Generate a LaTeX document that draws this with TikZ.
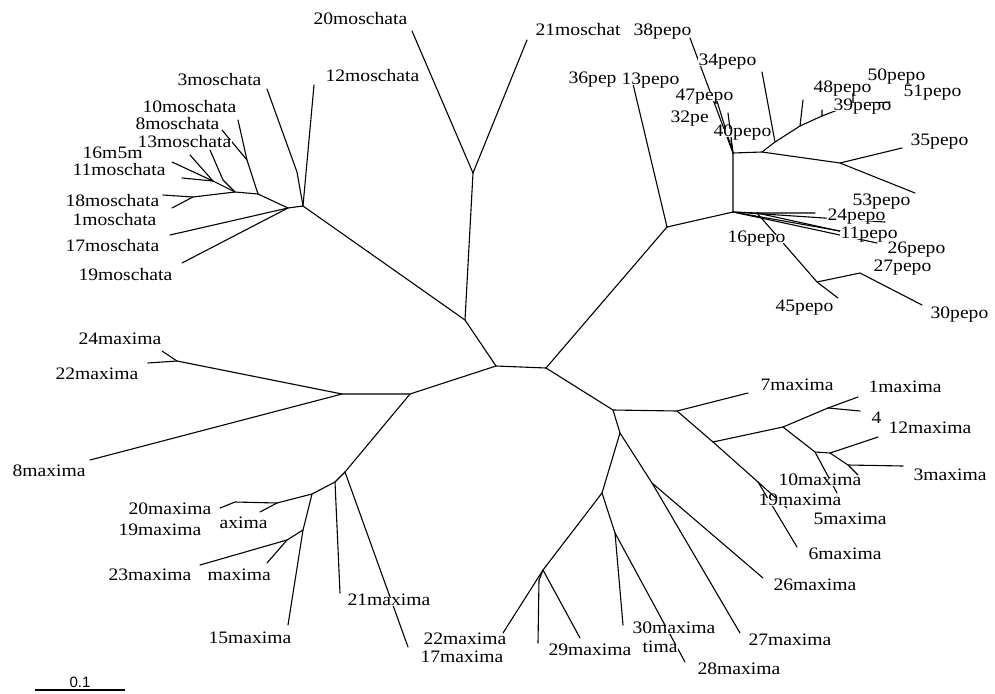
\documentclass[tikz,border=0pt]{standalone}
\usepackage{fontspec}
\setmainfont{Liberation Serif}[FakeStretch=1.12]
\newfontfamily\barfont{Liberation Sans}
\newcommand{\labfont}{\fontsize{17.5}{20}\selectfont}
\tikzset{
  br/.style={line width=1.1pt, line cap=round, line join=round},
  lab/.style={anchor=west, inner sep=0.4pt, fill=white, text height=0.68em, text depth=0pt, font=\labfont},
}
\begin{document}
\begin{tikzpicture}[x=1pt,y=-1pt]
\useasboundingbox[fill=white] (0,0) rectangle (995,693);
% ---------------- centre
\coordinate (A) at (496,366);
\coordinate (B) at (546,368);
% ---------------- moschata
\coordinate (Mo1) at (465,320);
\coordinate (Mf) at (473,173);
\coordinate (t20m) at (412,31);
\coordinate (t21m) at (527,40);
\coordinate (M) at (303,206);
\coordinate (M3) at (297,172);
\coordinate (t3m) at (267,89);
\coordinate (t12m) at (314,85);
\coordinate (M2) at (288,208);
\coordinate (t1m) at (170,235);
\coordinate (t17m) at (182,263);
\coordinate (M4) at (258,194);
\coordinate (M6) at (247,160);
\coordinate (t10m) at (238,120);
\coordinate (t8m) at (222,130);
\coordinate (M7) at (235,192);
\coordinate (Mb) at (193,197);
\coordinate (t18m) at (163,195);
\coordinate (t18b) at (172,208);
\coordinate (M8) at (223,180);
\coordinate (t13m) at (210,150);
\coordinate (M9) at (213,181);
\coordinate (t5m) at (190,155);
\coordinate (t16m) at (172,162);
\coordinate (t11m) at (182,178);
% ---------------- pepo
\coordinate (P1) at (667,227);
\coordinate (t13p) at (633,84);
\coordinate (P2) at (733,212);
\coordinate (P3) at (733,153);
\coordinate (t38p) at (690,38);
\coordinate (t47p) at (716,98);
\coordinate (t32p) at (728,113);
\coordinate (t40p) at (731,140);
\coordinate (P4) at (762,152);
\coordinate (P6) at (775,142);
\coordinate (t34p) at (762,72);
\coordinate (P7) at (800,126);
\coordinate (t48p) at (803,100);
\coordinate (P8) at (822,116);
\coordinate (t8s) at (822,110);
\coordinate (P9) at (853,104);
\coordinate (t50p) at (853,93);
\coordinate (t51p) at (890,102);
\coordinate (P5) at (840,163);
\coordinate (t35p) at (902,148);
\coordinate (t53p) at (915,193);
\coordinate (Q) at (757,213);
\coordinate (t16p) at (815,213);
\coordinate (t24p) at (885,222);
\coordinate (t11p) at (840,231);
\coordinate (t26p) at (877,243);
\coordinate (t21p) at (862,236);
\coordinate (P10) at (817,282);
\coordinate (t45p) at (838,298);
\coordinate (P11) at (860,273);
\coordinate (t30p) at (922,305);
% ---------------- maxima left
\coordinate (C1) at (410,394);
\coordinate (C2) at (342,394);
\coordinate (C24) at (177,361);
\coordinate (t24x) at (162,351);
\coordinate (t22x) at (148,363);
\coordinate (t8x) at (90,460);
\coordinate (C3) at (345,472);
\coordinate (C3b) at (335,482);
\coordinate (t21x) at (340,593);
\coordinate (t17x) at (408,647);
\coordinate (C4) at (312,494);
\coordinate (C20) at (277,503);
\coordinate (C20b) at (235,502);
\coordinate (t20x) at (220,508);
\coordinate (t19x) at (260,512);
\coordinate (C5) at (303,530);
\coordinate (t15x) at (288,625);
\coordinate (C6) at (287,540);
\coordinate (t23x) at (200,565);
\coordinate (t9x) at (267,563);
% ---------------- maxima right
\coordinate (D1) at (613,410);
\coordinate (D2) at (677,411);
\coordinate (t7x) at (748,393);
\coordinate (D3) at (713,442);
\coordinate (D5) at (783,427);
\coordinate (D6) at (828,408);
\coordinate (t1x) at (858,397);
\coordinate (t4x) at (860,411);
\coordinate (D7) at (815,452);
\coordinate (D8) at (830,453);
\coordinate (t12x) at (878,437);
\coordinate (D9) at (848,465);
\coordinate (t3x) at (903,466);
\coordinate (t3b) at (858,475);
\coordinate (t10x) at (837,493);
\coordinate (D4) at (758,482);
\coordinate (t19r) at (787,508);
\coordinate (t6x) at (797,547);
\coordinate (D10) at (620,433);
\coordinate (D11) at (602,493);
\coordinate (D12) at (652,483);
\coordinate (t27x) at (740,633);
\coordinate (t26x) at (763,578);
\coordinate (D13) at (543,570);
\coordinate (D13b) at (539,580);
\coordinate (t22b) at (503,633);
\coordinate (t29a) at (538,643);
\coordinate (t29x) at (580,638);
\coordinate (D14) at (615,533);
\coordinate (t30a) at (623,625);
\coordinate (t28x) at (685,662);
% ---------------- branches
\draw[br] (A) -- (B);
\draw[br] (A) -- (Mo1) -- (Mf) -- (t20m);
\draw[br] (Mf) -- (t21m);
\draw[br] (Mo1) -- (M) -- (M3) -- (t3m);
\draw[br] (M) -- (t12m);
\draw[br] (M) -- (M2) -- (t1m);
\draw[br] (M2) -- (t17m);
\draw[br] (M2) -- (M4) -- (M6) -- (t10m);
\draw[br] (M6) -- (t8m);
\draw[br] (M4) -- (M7) -- (Mb) -- (t18m);
\draw[br] (Mb) -- (t18b);
\draw[br] (M7) -- (M8) -- (t13m);
\draw[br] (M7) -- (M9) -- (t5m);
\draw[br] (M9) -- (t16m);
\draw[br] (M9) -- (t11m);
\draw[br] (B) -- (P1) -- (t13p);
\draw[br] (P1) -- (P2) -- (P3) -- (t38p);
\draw[br] (P3) -- (t47p);
\draw[br] (P3) -- (t32p);
\draw[br] (P3) -- (t40p);
\draw[br] (P3) -- (P4) -- (P6) -- (t34p);
\draw[br] (P6) -- (P7) -- (t48p);
\draw[br] (P7) -- (P8) -- (t8s);
\draw[br] (P8) -- (P9) -- (t50p);
\draw[br] (P9) -- (t51p);
\draw[br] (P4) -- (P5) -- (t35p);
\draw[br] (P5) -- (t53p);
\draw[br] (P2) -- (Q) -- (t16p);
\draw[br] (P2) -- (t24p);
\draw[br] (P2) -- (t11p);
\draw[br] (P2) -- (t26p);
\draw[br] (Q) -- (t21p);
\draw[br] (Q) -- (P10) -- (t45p);
\draw[br] (P10) -- (P11) -- (t30p);
\draw[br] (A) -- (C1) -- (C2) -- (C24) -- (t24x);
\draw[br] (C24) -- (t22x);
\draw[br] (C2) -- (t8x);
\draw[br] (C1) -- (C3) -- (C3b) -- (t21x);
\draw[br] (C3) -- (t17x);
\draw[br] (C3b) -- (C4) -- (C20) -- (C20b) -- (t20x);
\draw[br] (C20) -- (t19x);
\draw[br] (C4) -- (C5) -- (t15x);
\draw[br] (C5) -- (C6) -- (t23x);
\draw[br] (C6) -- (t9x);
\draw[br] (B) -- (D1) -- (D2) -- (t7x);
\draw[br] (D2) -- (D3) -- (D5) -- (D6) -- (t1x);
\draw[br] (D6) -- (t4x);
\draw[br] (D5) -- (D7) -- (D8) -- (t12x);
\draw[br] (D8) -- (D9) -- (t3x);
\draw[br] (D9) -- (t3b);
\draw[br] (D7) -- (t10x);
\draw[br] (D3) -- (D4) -- (t19r);
\draw[br] (D4) -- (t6x);
\draw[br] (D1) -- (D10) -- (D11);
\draw[br] (D10) -- (D12) -- (t27x);
\draw[br] (D12) -- (t26x);
\draw[br] (D11) -- (D13) -- (t22b);
\draw[br] (D13) -- (D13b) -- (t29a);
\draw[br] (D13) -- (t29x);
\draw[br] (D11) -- (D14) -- (t30a);
\draw[br] (D14) -- (t28x);
% ---------------- labels: moschata
\node[lab] (l20m) at (313,21) {20moschata};
\node[lab] (l21m) at (535,32) {21moschat};
\node[lab] (l38p) at (633,32) {38pepo};
\node[lab] (l12m) at (325,78) {12moschata};
\node[lab] (l3m) at (177,82) {3moschata};
\node[lab] (l10m) at (142,109) {10moschata};
\node[lab] (l8m) at (135,126) {8moschata};
\node[lab] (l16m) at (82,155) {16m};
\node[lab] (l5m) at (117,155) {5m};
\node[lab] (l13m) at (137,144) {13moschata};
\node[lab] (l11m) at (72,172) {11moschata};
\node[lab] (l18m) at (65,203) {18moschata};
\node[lab] (l1m) at (72,222) {1moschata};
\node[lab] (l17m) at (65,248) {17moschata};
\node[lab] (l19m) at (78,277) {19moschata};
% ---------------- labels: pepo
\node[lab] (l36p) at (568,80) {36pep};
\node[lab] (l13p) at (621,81) {13pepo};
\node[lab] (l34p) at (698,62) {34pepo};
\node[lab] (l47p) at (675,97) {47pepo};
\node[lab] (l32p) at (670,119) {32pe};
\node[lab] (l40p) at (713,133) {40pepo};
\node[lab] (l50p) at (867,77) {50pepo};
\node[lab] (l48p) at (813,89) {48pepo};
\node[lab] (l51p) at (903,93) {51pepo};
\node[lab] (l39p) at (833,107) {39pepo};
\node[lab] (l35p) at (910,142) {35pepo};
\node[lab] (l53p) at (852,202) {53pepo};
\node[lab] (l24p) at (827,217) {24pepo};
\node[lab] (l11p) at (840,235) {11pepo};
\node[lab] (l16p) at (727,239) {16pepo};
\node[lab] (l26p) at (887,250) {26pepo};
\node[lab] (l27p) at (873,268) {27pepo};
\node[lab] (l45p) at (775,308) {45pepo};
\node[lab] (l30p) at (930,315) {30pepo};
% ---------------- labels: maxima
\node[lab] (l24x) at (78,341) {24maxima};
\node[lab] (l22x) at (55,376) {22maxima};
\node[lab] (l8x) at (12,473) {8maxima};
\node[lab] (l20x) at (128,511) {20maxima};
\node[lab] (lax) at (219,525) {axima};
\node[lab] (l19x) at (118,532) {19maxima};
\node[lab] (l23x) at (108,577) {23maxima};
\node[lab] (lmx) at (207,577) {maxima};
\node[lab] (l15x) at (208,640) {15maxima};
\node[lab] (l21x) at (347,602) {21maxima};
\node[lab] (l22b) at (423,641) {22maxima};
\node[lab] (l17x) at (420,659) {17maxima};
\node[lab] (l29x) at (548,652) {29maxima};
\node[lab] (l30x) at (632,630) {30maxima};
\node[lab] (ltx) at (642,649) {tima};
\node[lab] (l28x) at (697,671) {28maxima};
\node[lab] (l27x) at (748,642) {27maxima};
\node[lab] (l26x) at (773,587) {26maxima};
\node[lab] (l6x) at (808,556) {6maxima};
\node[lab] (l10x) at (778,482) {10maxima};
\node[lab] (l19r) at (758,502) {19maxima};
\node[lab] (l5x) at (813,521) {5maxima};
\node[lab] (l3x) at (913,477) {3maxima};
\node[lab] (l4x) at (871,420) {4};
\node[lab] (l12x) at (888,430) {12maxima};
\node[lab] (l1x) at (868,389) {1maxima};
\node[lab] (l7x) at (760,387) {7maxima};
% ---------------- scale bar
\coordinate (s1) at (35,690);
\coordinate (s2) at (125,690);
\draw[line width=1.2pt] (s1) -- (s2) node[midway, above=1pt, font=\barfont\fontsize{15}{16}\selectfont, inner sep=0.5pt] (sb) {0.1};
\end{tikzpicture}
\end{document}
